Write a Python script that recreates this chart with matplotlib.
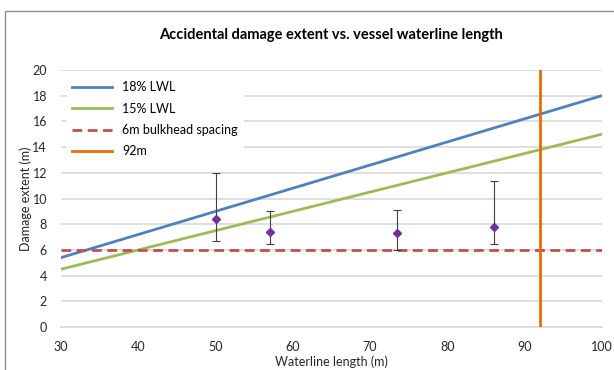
import numpy as np
import matplotlib.pyplot as plt
from matplotlib.patches import Rectangle

# reference lines
lwl = [30, 100]
pct_18 = [0.18 * v for v in lwl]
pct_15 = [0.15 * v for v in lwl]
bulkhead = 6
limit_len = 92

# observed damage (mean with min/max)
obs_len = [50, 57, 73.5, 86]
obs_mean = [8.4, 7.4, 7.3, 7.8]
obs_lo = [6.7, 6.5, 6.0, 6.5]
obs_hi = [12.0, 9.0, 9.1, 11.4]

plt.rcParams["font.family"] = ["Lato", "DejaVu Sans"]

fig = plt.figure(figsize=(6.14, 3.70), dpi=100)
ax = fig.add_axes([0.0993, 0.116, 0.881, 0.695])

# chart border (cropped at right and bottom)
fig.patches.append(Rectangle((5 / 614, -0.05), 1.1, 1 - 11 / 370 + 0.05,
                             transform=fig.transFigure, fill=False,
                             edgecolor="#8c8c8c", linewidth=1.0))

ax.plot(lwl, pct_18, color="#4f81bd", lw=2, label="18% LWL", zorder=3)
ax.plot(lwl, pct_15, color="#9bbb59", lw=2, label="15% LWL", zorder=3)
ax.plot(lwl, [bulkhead, bulkhead], color="#c0504d", lw=2, ls=(0, (3.5, 2)),
        label="6m bulkhead spacing", zorder=3)
ax.axvline(limit_len, color="#e46c0a", lw=2, label="92m", zorder=3)

err = [np.array(obs_mean) - np.array(obs_lo), np.array(obs_hi) - np.array(obs_mean)]
ax.errorbar(obs_len, obs_mean, yerr=err, fmt="D", color="#7030a0", ms=4,
            ecolor="#404040", elinewidth=0.8, capsize=3, capthick=0.8, zorder=4)

ax.set_xlim(30, 100)
ax.set_ylim(0, 20)
ax.set_xticks(range(30, 101, 10))
ax.set_yticks(range(0, 21, 2))
ax.grid(axis="y", color="#d9d9d9", lw=1.2)
ax.set_axisbelow(True)
for s in ["top", "right", "left"]:
    ax.spines[s].set_visible(False)
ax.spines["bottom"].set_color("#d9d9d9")
ax.spines["bottom"].set_linewidth(1.2)
ax.tick_params(length=0, labelsize=9, colors="#262626")
ax.tick_params(axis="x", pad=10)
ax.tick_params(axis="y", pad=10)

ax.set_xlabel("Waterline length (m)", fontsize=9, color="#262626", labelpad=2)
ax.set_ylabel("Damage extent (m)", fontsize=9, color="#262626", labelpad=0.5)
ax.set_title("Accidental damage extent vs. vessel waterline length",
             fontsize=10.5, fontweight="bold", pad=22)

leg = ax.legend(loc="upper left", fontsize=9, frameon=True, fancybox=False,
                edgecolor="white", framealpha=1, handlelength=3.2,
                borderaxespad=0.5, labelspacing=0.75)
leg.set_zorder(5)

fig.savefig("out.png", dpi=100)
